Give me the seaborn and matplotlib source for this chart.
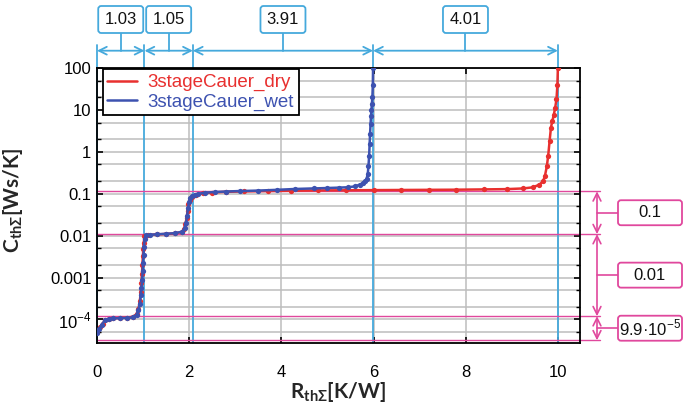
import numpy as np
import pandas as pd
import matplotlib
matplotlib.use('Agg')
import matplotlib.pyplot as plt
import seaborn as sns
from matplotlib.lines import Line2D
from matplotlib.patches import FancyBboxPatch
from matplotlib.transforms import IdentityTransform
from matplotlib.ticker import LogLocator, NullFormatter

# structure function points: R_th sum [K/W], C_th sum [Ws/K]
r_dry = [0.00, 0.06, 0.12, 0.18, 0.25, 0.35, 0.5, 0.65, 0.78, 0.86,
         0.9, 0.93, 0.95, 0.965, 0.975, 0.985, 0.995, 1.005, 1.015, 1.03,
         1.1, 1.3, 1.5, 1.7, 1.84, 1.89, 1.92, 1.945, 1.965, 1.985,
         2.01, 2.06, 2.15, 2.3, 2.5, 2.8, 3.2, 3.7, 4.2, 4.8,
         5.4, 6.0, 6.6, 7.2, 7.8, 8.4, 8.9, 9.25, 9.45, 9.6,
         9.68, 9.72, 9.76, 9.79, 9.82, 9.85, 9.88, 9.91, 9.94, 9.97,
         9.99, 10.0]
c_dry = [5.0e-5, 6.5e-5, 8.0e-5, 9.5e-5, 1.03e-4, 1.07e-4, 1.09e-4, 1.11e-4, 1.16e-4, 1.35e-4,
         1.8e-4, 2.8e-4, 4.5e-4, 7.5e-4, 1.2e-3, 2.0e-3, 3.2e-3, 4.8e-3, 6.8e-3, 9.6e-3,
         0.0104, 0.0107, 0.0110, 0.0114, 0.0122, 0.0145, 0.019, 0.027, 0.039, 0.056,
         0.072, 0.085, 0.095, 0.102, 0.107, 0.111, 0.114, 0.116, 0.118, 0.120,
         0.121, 0.122, 0.123, 0.124, 0.125, 0.127, 0.129, 0.134, 0.142, 0.165,
         0.2, 0.27, 0.45, 0.81, 1.8, 3.8, 5.5, 7.5, 11, 18,
         40, 100]

r_wet = [0.00, 0.05, 0.1, 0.17, 0.25, 0.35, 0.5, 0.65, 0.78, 0.86,
         0.9, 0.93, 0.95, 0.965, 0.98, 0.99, 1.0, 1.01, 1.02, 1.035,
         1.06, 1.15, 1.3, 1.5, 1.7, 1.85, 1.9, 1.93, 1.955, 1.975,
         1.995, 2.02, 2.06, 2.12, 2.2, 2.35, 2.55, 2.8, 3.1, 3.5,
         3.9, 4.3, 4.7, 5.0, 5.25, 5.45, 5.6, 5.7, 5.77, 5.82,
         5.85, 5.875, 5.89, 5.905, 5.915, 5.925, 5.935, 5.945, 5.955, 5.965,
         5.975, 5.985, 5.99]
c_wet = [4.8e-5, 6.0e-5, 7.5e-5, 9.5e-5, 1.04e-4, 1.06e-4, 1.08e-4, 1.09e-4, 1.12e-4, 1.3e-4,
         1.7e-4, 2.4e-4, 3.8e-4, 5.7e-4, 9e-4, 1.4e-3, 2.2e-3, 3.5e-3, 5.5e-3, 8.5e-3,
         0.0102, 0.0105, 0.0108, 0.0111, 0.0115, 0.0125, 0.015, 0.02, 0.03, 0.045,
         0.062, 0.078, 0.088, 0.095, 0.1, 0.106, 0.11, 0.113, 0.116, 0.119,
         0.124, 0.13, 0.134, 0.137, 0.14, 0.143, 0.15, 0.165, 0.18, 0.2,
         0.226, 0.3, 0.45, 0.81, 1.5, 2.7, 4.5, 7, 10, 14,
         20, 40, 100]

series_names = ['3stageCauer_dry', '3stageCauer_wet']

# top dimension chain (thermal resistance steps)
r_steps = [1.03, 1.05, 3.91, 4.01]
r_step_labels = ['1.03', '1.05', '3.91', '4.01']
# right dimension chain (capacitance levels and their differences)
c_levels = [0.114, 0.0109, 1.2e-4, 3.2e-5]
c_step_labels = ['0.1', '0.01', '9.9·10$^{-5}$']

x_ticks = [0, 2, 4, 6, 8, 10]
y_ticks = [1e-4, 1e-3, 1e-2, 0.1, 1, 10, 100]
y_tick_labels = ['10$^{-4}$', '0.001', '0.01', '0.1', '1', '10', '100']

RED = '#E8302F'
BLUE = '#3D52B0'
CYAN = '#45A9DC'
PINK = '#E0489D'
GRID = '#BDBDBD'

sns.set_style('ticks')
plt.rcParams['font.family'] = ['Liberation Sans', 'DejaVu Sans']
plt.rcParams['mathtext.fontset'] = 'custom'
plt.rcParams['mathtext.rm'] = 'Liberation Sans'
plt.rcParams['mathtext.bf'] = 'Lato:bold'

W, H = 685, 412
fig = plt.figure(figsize=(W / 100, H / 100), dpi=100)
ax_l, ax_r, ax_t, ax_b = 97, 580, 68, 343
ax = fig.add_axes([ax_l / W, 1 - ax_b / H, (ax_r - ax_l) / W, (ax_b - ax_t) / H])

df = pd.concat([
    pd.DataFrame({'R': r_dry, 'C': c_dry, 'series': series_names[0]}),
    pd.DataFrame({'R': r_wet, 'C': c_wet, 'series': series_names[1]}),
])
sns.lineplot(data=df, x='R', y='C', hue='series', palette=[RED, BLUE],
             sort=False, estimator=None, marker='o', markersize=3.8,
             markeredgewidth=0, linewidth=1.8, legend=False, ax=ax, zorder=4)

ax.set_yscale('log')
ax.set_xlim(0, 10.48)
ax.set_ylim(2.75e-5, 100)
ax.set_xticks(x_ticks)
ax.set_yticks(y_ticks, y_tick_labels)
ax.yaxis.set_minor_locator(LogLocator(base=10, subs=(2.0, 5.0), numticks=20))
ax.yaxis.set_minor_formatter(NullFormatter())
ax.set_axisbelow(True)
ax.grid(which='both', axis='y', color=GRID, lw=1.1)
ax.grid(which='major', axis='x', color=GRID, lw=1.1)
ax.tick_params(which='both', direction='in', top=True, right=True, color='black')
ax.tick_params(which='major', length=4, width=1.2, labelsize=12, colors='black')
ax.tick_params(which='minor', length=3, width=1)
ax.tick_params(axis='x', pad=16)
ax.tick_params(axis='y', pad=4)
for s in ax.spines.values():
    s.set_color('black')
    s.set_linewidth(1.3)

ax.set_xlabel(r'R$_{\mathbf{th\Sigma}}$[K/W]', fontsize=15, fontweight='bold', family='Lato')
ax.set_ylabel(r'C$_{\mathbf{th\Sigma}}$[Ws/K]', fontsize=15, fontweight='bold', family='Lato')
ax.xaxis.set_label_coords(0.5, (ax_b - 380) / (ax_b - ax_t))
ax.yaxis.set_label_coords((25 - ax_l) / (ax_r - ax_l), 0.52)

handles = [Line2D([], [], color=RED, lw=1.8), Line2D([], [], color=BLUE, lw=1.8)]
leg = ax.legend(handles, series_names, loc='upper left', bbox_to_anchor=(0.012, 0.995),
                borderaxespad=0, fancybox=False, edgecolor='black', framealpha=1,
                fontsize=13.5, handlelength=1.6, handletextpad=0.55, labelspacing=0.1,
                borderpad=0.25)
leg.get_frame().set_linewidth(1.3)
leg.set_zorder(6)
for t, c in zip(leg.get_texts(), [RED, BLUE]):
    t.set_color(c)


def label_box(xd, yd, w, h, text, color):
    # rounded box of fixed pixel size, centred on a display point
    patch = FancyBboxPatch((xd - w / 2, yd - h / 2), w, h,
                           boxstyle='round,pad=0,rounding_size=3',
                           transform=IdentityTransform(), fc='white', ec=color,
                           lw=1.3, zorder=5)
    fig.add_artist(patch)
    fig.text(xd / W, yd / H, text, ha='center', va='center', fontsize=12,
             color='#111111', zorder=6)


# top chain: blue verticals, arrows and value boxes
xt = ax.get_xaxis_transform()
frac = lambda py: (ax_b - py) / (ax_b - ax_t)
y_dim, y_vtop, y_box = frac(50.7), frac(45), frac(19.5)
edges = np.concatenate([[0.0], np.cumsum(r_steps)])
for e in edges:
    ax.plot([e, e], [0, y_vtop], transform=xt, color=CYAN, lw=1.3, clip_on=False, zorder=2)
for a, b, lab in zip(edges[:-1], edges[1:], r_step_labels):
    ax.annotate('', xy=(b, y_dim), xytext=(a, y_dim), xycoords=xt, textcoords=xt,
                arrowprops=dict(arrowstyle='<->', color=CYAN, lw=1.3, shrinkA=0,
                                shrinkB=0, mutation_scale=14),
                annotation_clip=False)
    mid = (a + b) / 2
    ax.plot([mid, mid], [y_dim, y_box], transform=xt, color=CYAN, lw=1.3, clip_on=False)
    px, py = xt.transform((mid, y_box))
    label_box(px, py, 45, 27, lab, CYAN)

# right chain: pink levels, arrows and difference boxes
yt = ax.get_yaxis_transform()
fx = lambda pxl: (pxl - ax_l) / (ax_r - ax_l)
x_dim, x_end, x_lead, x_box = fx(597), fx(600), fx(618), fx(650)
for lvl in c_levels:
    ax.plot([0, x_end], [lvl, lvl], transform=yt, color=PINK, lw=1.0, clip_on=False, zorder=2)
for hi, lo, lab in zip(c_levels[:-1], c_levels[1:], c_step_labels):
    ax.annotate('', xy=(x_dim, lo), xytext=(x_dim, hi), xycoords=yt, textcoords=yt,
                arrowprops=dict(arrowstyle='<->', color=PINK, lw=1.2, shrinkA=0,
                                shrinkB=0, mutation_scale=14),
                annotation_clip=False)
    mid = np.sqrt(hi * lo)
    ax.plot([x_dim, x_lead], [mid, mid], transform=yt, color=PINK, lw=1.2, clip_on=False)
    px, py = yt.transform((x_box, mid))
    label_box(px, py, 64, 25, lab, PINK)

fig.savefig('out.png', dpi=100)
